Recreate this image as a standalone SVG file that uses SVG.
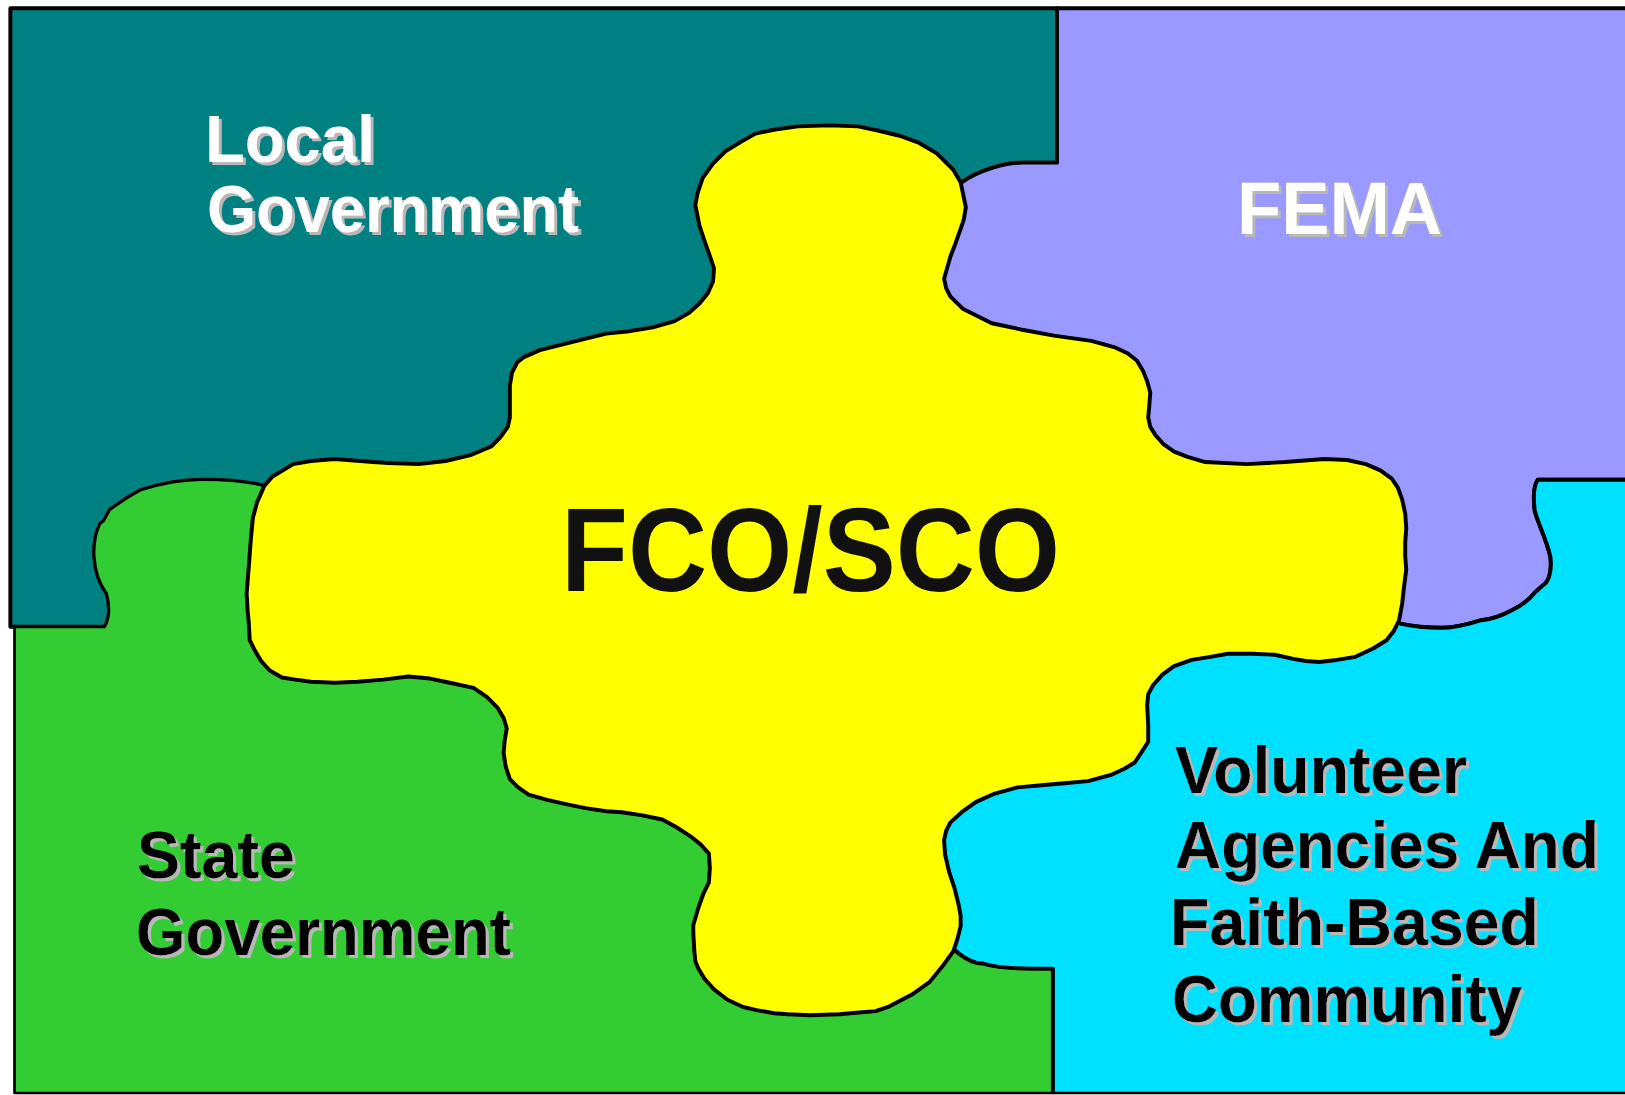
<svg xmlns="http://www.w3.org/2000/svg" width="1625" height="1095" viewBox="0 0 1625 1095">
  <defs>
    <filter id="sh" x="-5%" y="-5%" width="110%" height="120%">
      <feDropShadow dx="3" dy="3" stdDeviation="0" flood-color="#b8b8b8" flood-opacity="1"/>
    </filter>
    <style>
      .piece { stroke: #000; stroke-width: 3.8; stroke-linejoin: round; }
      .lbl { font-family: "Liberation Sans", Arial, Helvetica, sans-serif; font-weight: bold; }
      .white { fill: #ffffff; filter: url(#sh); }
      .black { fill: #000000; filter: url(#sh); }
    </style>
  </defs>
  <rect width="1625" height="1095" fill="#ffffff"/>
  <g transform="scale(1.0363 1.036)">
    <g id="local-government">
      <path class="piece" fill="#008080" d="M10,8 H1020 V157 H987 C970,157 945,164 928,176 L800,550 L255,469 C240,465 215,463 195,463 C175,463 155,467 136,473 C122,480 112,488 106,492 L100,503 L97,505 C93,512 90,525 91,538 C92,552 97,565 103,573 C106,585 106,597 101,605 H10 Z"/>
    </g>
    <g id="fema">
      <path class="piece" fill="#9999ff" d="M1020,8 H1590 V463 H1484 C1479,470 1480,485 1481,493 C1484,505 1492,520 1496,537 C1498,552 1494,562 1489,565 L1481,572 C1475,580 1465,586 1459,589 C1448,595 1438,598 1428,599 C1415,603 1400,606 1391,606 C1375,606 1360,604 1351,602 L1300,560 L800,550 L928,176 C945,164 970,157 987,157 H1020 Z"/>
    </g>
    <g id="state-government">
      <path class="piece" fill="#33cc33" style="stroke-width:2.6" d="M14,605 H101 C106,597 106,585 103,573 C97,565 92,552 91,538 C90,525 93,512 97,505 L100,503 L106,492 C112,488 122,480 136,473 C155,467 175,463 195,463 C215,463 240,465 255,469 L800,550 L920,916 C930,925 940,930 948,930 C960,934 980,935 997,935 H1016 V1055 H14 Z"/>
    </g>
    <g id="volunteer-agencies">
      <path class="piece" fill="#00e0ff" style="stroke-width:2.6" d="M1016,1055 V935 H997 C980,935 960,934 948,930 C940,930 930,925 920,916 L800,550 L1300,560 L1351,602 C1360,604 1375,606 1391,606 C1400,606 1415,603 1428,599 C1438,598 1448,595 1459,589 C1465,586 1475,580 1481,572 L1489,565 C1494,562 1498,552 1496,537 C1492,520 1484,505 1481,493 C1480,485 1479,470 1484,463 H1590 V1055 Z"/>
      <path class="piece" fill="none" d="M1016,1055 V935 H997 C980,935 960,934 948,930 C940,930 930,925 920,916 M1351,602 C1360,604 1375,606 1391,606 C1400,606 1415,603 1428,599 C1438,598 1448,595 1459,589 C1465,586 1475,580 1481,572 L1489,565 C1494,562 1498,552 1496,537 C1492,520 1484,505 1481,493 C1480,485 1479,470 1484,463 H1590"/>
    </g>
    <g id="fco-sco">
      <polygon class="piece" fill="#ffff00" points="770,122 800,121 828,122 847,126 868,131 887,138 904,148 920,164 927,176 932,200 930,212 927,221 922,235 917,248 911,269 913,278 917,286 929,298 957,312 985,318 1017,324 1053,329 1075,335 1088,341 1097,348 1103,358 1107,368 1110,379 1109,392 1108,403 1110,412 1115,420 1123,429 1133,436 1146,441 1163,446 1203,448 1240,446 1278,443 1300,444 1318,448 1332,454 1343,462 1349,471 1353,482 1356,496 1357,510 1356,523 1356,537 1357,550 1355,565 1353,583 1350,599 1345,609 1338,618 1325,626 1308,634 1290,637 1273,639 1260,638 1248,636 1230,632 1208,631 1185,631 1168,634 1150,637 1133,643 1122,651 1113,661 1108,670 1107,681 1108,700 1108,716 1101,727 1095,736 1085,742 1072,748 1050,754 1027,756 1005,758 982,760 960,766 942,774 928,784 917,794 913,802 911,811 912,825 916,842 921,857 925,873 927,884 927,894 924,906 920,918 910,932 897,948 880,960 857,972 845,976 832,977 810,979 782,980 760,979 747,978 730,975 717,972 702,965 689,955 680,945 674,935 671,928 670,918 669,900 669,893 674,876 679,862 684,852 685,838 684,824 676,815 666,807 652,798 639,791 620,787 600,784 585,783 565,780 545,776 528,772 510,767 500,760 492,752 488,740 486,727 487,715 489,703 486,693 480,683 470,673 457,664 434,659 415,655 394,653 370,656 345,658 323,659 300,658 285,656 272,654 260,647 252,638 246,628 241,618 240,600 239,590 238,573 240,548 242,521 244,500 248,485 252,476 255,469 263,460 273,454 283,448 300,445 323,443 360,446 375,447 404,448 430,445 455,439 474,431 483,422 490,412 492,403 492,390 492,372 494,360 499,350 505,345 521,338 545,332 585,322 605,320 630,316 651,310 665,302 675,293 683,283 688,272 689,259 686,250 680,233 675,218 671,198 673,187 678,172 688,158 700,146 715,137 729,129 748,125"/>
    </g>
  </g>
  <g id="labels" class="lbl">
    <g id="local-label" class="white" font-size="67">
      <text x="205" y="162" textLength="170" lengthAdjust="spacingAndGlyphs">Local</text>
      <text x="207" y="232" textLength="372" lengthAdjust="spacingAndGlyphs">Government</text>
    </g>
    <g id="fema-label" class="white" font-size="74">
      <text x="1237" y="234" textLength="205" lengthAdjust="spacingAndGlyphs">FEMA</text>
    </g>
    <g id="center-label" font-size="119" fill="#111111">
      <text x="561" y="591" textLength="499" lengthAdjust="spacingAndGlyphs">FCO/SCO</text>
    </g>
    <g id="state-label" class="black" font-size="67">
      <text x="137" y="878" textLength="158" lengthAdjust="spacingAndGlyphs">State</text>
      <text x="136" y="955" textLength="375" lengthAdjust="spacingAndGlyphs">Government</text>
    </g>
    <g id="volunteer-label" class="black" font-size="67">
      <text x="1175" y="793" textLength="292" lengthAdjust="spacingAndGlyphs">Volunteer</text>
      <text x="1175" y="868" textLength="424" lengthAdjust="spacingAndGlyphs">Agencies And</text>
      <text x="1170" y="945" textLength="369" lengthAdjust="spacingAndGlyphs">Faith-Based</text>
      <text x="1172" y="1022" textLength="350" lengthAdjust="spacingAndGlyphs">Community</text>
    </g>
  </g>
</svg>
